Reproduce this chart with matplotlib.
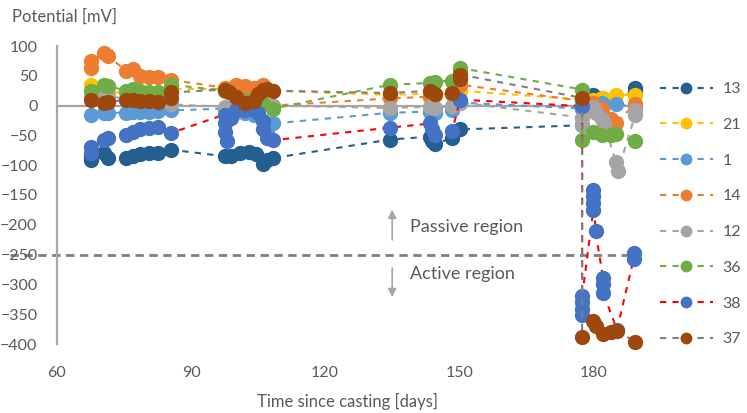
import matplotlib
matplotlib.use('Agg')
import matplotlib.pyplot as plt
from matplotlib.lines import Line2D

plt.rcParams['font.family'] = ['Lato', 'DejaVu Sans']

# ---- data ----
days_13 = [67.5, 67.5, 70.5, 71.5, 75.5, 77, 78.5, 80.5, 82.5, 85.5, 97.5, 99, 101, 103, 104.5, 106, 107, 108.4,
           134.5, 143.5, 144, 144.5, 148.4, 150.2, 177.5, 180, 182, 184, 189.4, 189.4]
pot_13 = [-85, -91, -80, -88, -88, -84, -82, -80, -79, -74, -85, -84, -80, -78, -82, -98, -92, -88,
          -57, -52, -60, -65, -54, -40, -33, 18, 12, 8, 25, 30]

days_21 = [67.5, 70.5, 71.5, 75.5, 77, 78.5, 80.5, 82.5, 85.5, 97.5, 100, 104, 108.4,
           134.5, 143.5, 148.4, 150.2, 177.5, 180, 182, 185, 189.4]
pot_21 = [35, 28, 22, 22, 22, 20, 20, 20, 28, 28, 32, 28, 25,
          18, 20, 22, 25, 10, 10, 12, 18, 18]

days_1 = [67.5, 70.5, 71.5, 75.5, 77, 78.5, 80.5, 82.5, 85.5, 97.5, 100, 102, 104, 106, 107, 108.4,
          134.5, 143.5, 144.5, 148.4, 150.2, 177.5, 180, 182, 185, 189.4]
pot_1 = [-15, -13, -12, -12, -11, -10, -10, -9, -8, -5, -10, -12, -15, -25, -45, -30,
         -12, -10, -12, -8, 5, -5, 0, 5, 3, -3]

days_14 = [67.5, 67.5, 70.5, 71.5, 75.5, 77, 78.5, 80.5, 82.5, 85.5, 97.5, 100, 102, 104, 106, 108.4,
           134.5, 143.5, 144.5, 148.4, 150.2, 177.5, 180, 182, 184, 185, 189.4, 189.4]
pot_14 = [63, 75, 88, 83, 58, 61, 50, 48, 48, 43, 30, 35, 33, 30, 35, 0,
          12, 15, 18, 20, 35, 8, 5, -5, -22, -30, 3, -5]

days_12 = [67.5, 70.5, 71.5, 75.5, 77, 78.5, 80.5, 82.5, 85.5, 97.5, 100, 104, 108.4,
           134.5, 143.5, 144.5, 148.4, 150.2, 177.5, 177.5, 180, 180.5, 182, 182.5, 185, 185.5, 189.4, 189.4]
pot_12 = [15, 18, 15, 12, 12, 10, 10, 8, 2, -2, 0, 0, 0,
          -4, -2, -4, -1, 5, -20, -32, -2, -12, -22, -30, -95, -110, -15, -8]

days_36 = [67.5, 70.5, 71.5, 75.5, 77, 78.5, 80.5, 82.5, 85.5, 97.5, 100, 102, 104, 106, 108.4,
           134.5, 143.5, 144.5, 148.4, 150.2, 150.2, 177.5, 177.5, 180, 182, 184, 185, 189.4]
pot_36 = [24, 35, 33, 25, 28, 24, 22, 22, 35, 25, 15, 10, 8, 5, -5,
          35, 38, 40, 42, 58, 63, 27, -57, -45, -50, -50, -48, -60]

days_38 = [67.5, 67.5, 70.5, 71.5, 75.5, 77, 78.5, 80.5, 82.5, 85.5,
           97.5, 97.5, 97.5, 98, 99, 100, 102, 104, 105, 106, 106, 107, 108.4,
           134.5, 143.5, 144, 144.5, 148.4, 150.2,
           177.5, 177.5, 177.5, 177.5, 177.5, 180, 180, 180, 180, 180.5, 182.2, 182.2, 182.2, 185.3, 189, 189]
pot_38 = [-80, -70, -58, -55, -50, -45, -40, -38, -36, -46,
          -15, -30, -45, -60, -20, -8, -8, -8, -12, -25, -40, -55, -58,
          -37, -30, -40, -50, -43, 10,
          -1, -352, -342, -330, -320, -175, -163, -152, -141, -211, -290, -300, -314, -376, -258, -248]

days_37 = [67.5, 70.5, 71.5, 75.5, 77, 78.5, 80.5, 82.5, 85.5, 85.5,
           97.5, 98.5, 100, 102, 104, 105, 106, 107, 108.4,
           134.5, 143.5, 144.5, 148.4, 150.2, 150.2,
           177.5, 177.5, 180, 180.5, 182.2, 184, 185.3, 189.4]
pot_37 = [10, 5, 6, 10, 10, 8, 7, 6, 13, 22,
          27, 22, 15, 5, 8, 20, 27, 28, 25,
          21, 25, 20, 21, 45, 52,
          13, -388, -362, -370, -384, -380, -378, -396]

labels = ['13', '21', '1', '14', '12', '36', '38', '37']
all_days = [days_13, days_21, days_1, days_14, days_12, days_36, days_38, days_37]
all_pot = [pot_13, pot_21, pot_1, pot_14, pot_12, pot_36, pot_38, pot_37]
marker_cols = ['#255E91', '#FFC000', '#5B9BD5', '#ED7D31', '#A5A5A5', '#70AD47', '#4472C4', '#9E480E']
line_cols = ['#255E91', '#FFC000', '#5B9BD5', '#ED7D31', '#A5A5A5', '#70AD47', '#FF0000', '#7F7F7F']

txt = '#595959'
axis_col = '#A6A6A6'

fig = plt.figure(figsize=(7.47, 4.13), dpi=100)
ax = fig.add_axes([57/747, 1-344/413, (638-57)/747, (344-46)/413])

ax.axhline(0, color=axis_col, lw=1.6, zorder=1)
ax.plot([49.5, 190.5], [-250, -250], color='#7F7F7F', lw=2, dashes=(3, 2),
        clip_on=False, zorder=1)

handles = []
for d, p, lab, mc, lc in zip(all_days, all_pot, labels, marker_cols, line_cols):
    ax.plot(d, p, color=lc, lw=1.5, dashes=(3, 3), marker='o', ms=10,
            mfc=mc, mec=mc, zorder=2, clip_on=False)
    handles.append(Line2D([], [], color=lc, lw=1.5, dashes=(3, 3), marker='o', ms=7.5,
                          mfc=mc, mec=mc))

# region annotations
ax.annotate('', xy=(135, -170), xytext=(135, -230),
            arrowprops=dict(arrowstyle='-|>', color=axis_col, lw=1.2, mutation_scale=12))
ax.annotate('', xy=(135, -326), xytext=(135, -268),
            arrowprops=dict(arrowstyle='-|>', color=axis_col, lw=1.2, mutation_scale=12))
ax.text(139, -204, 'Passive region', color=txt, fontsize=13, va='center', ha='left')
ax.text(139, -283, 'Active region', color=txt, fontsize=13, va='center', ha='left')

ax.set_xlim(60, 190)
ax.set_ylim(-400, 100)
ax.set_xticks([60, 90, 120, 150, 180])
ax.set_yticks(range(-400, 101, 50))
ax.tick_params(axis='both', length=0, labelsize=11.5, labelcolor=txt)
ax.tick_params(axis='x', pad=16)
ax.tick_params(axis='y', pad=14)
for s in ['top', 'right', 'bottom']:
    ax.spines[s].set_visible(False)
ax.spines['left'].set_color(axis_col)
ax.spines['left'].set_linewidth(1.6)

ax.set_xlabel('Time since casting [days]', fontsize=12, color=txt, labelpad=9)
fig.text(12/747, 1-17/413, 'Potential [mV]', fontsize=12, color=txt, va='center', ha='left')

fig.legend(handles=handles, labels=labels, loc='upper left', bbox_to_anchor=(660/747, 1-82/413),
           frameon=False, fontsize=11.5, labelcolor=txt, handlelength=3.3, handletextpad=0.6,
           labelspacing=1.35, borderpad=0, borderaxespad=0)

plt.savefig('out.png', dpi=100)
